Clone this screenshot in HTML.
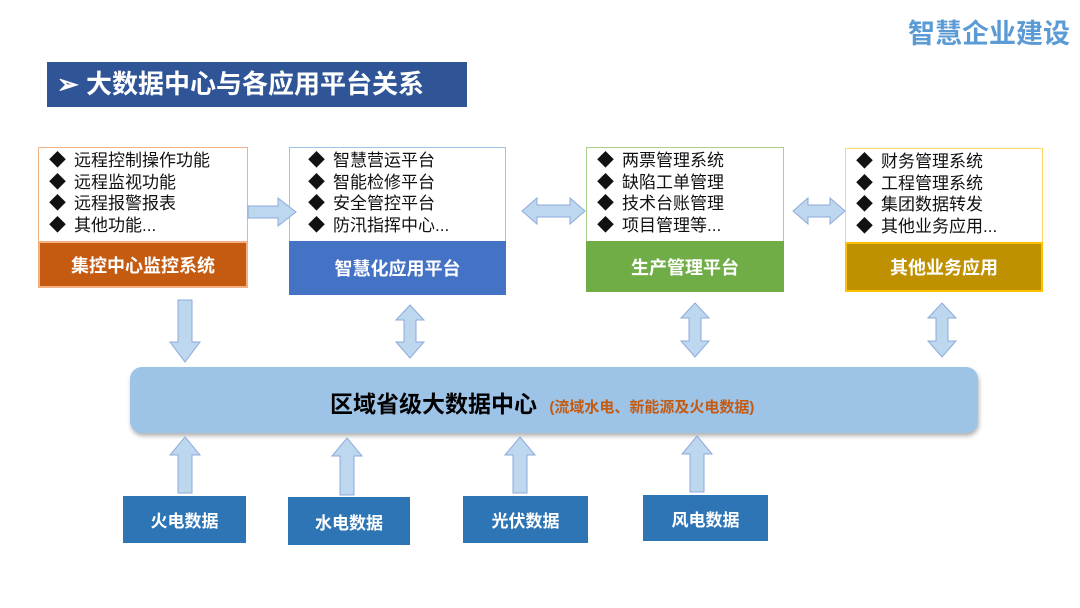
<!DOCTYPE html>
<html><head><meta charset="utf-8"><style>
body{margin:0;width:1080px;height:608px;background:#fff;position:relative;overflow:hidden;font-family:"Liberation Sans","Noto Sans CJK SC",sans-serif}
.a{position:absolute}
.list{position:absolute;background:#fff;box-sizing:border-box;padding:2px 0 0 10px;font-size:17px;line-height:21.5px;color:#111;white-space:nowrap}
.list b{font-weight:normal;margin-right:8px}
.bar{position:absolute;box-sizing:border-box;color:#fff;font-weight:bold;font-size:18px;display:flex;align-items:center;justify-content:center}
.bt{position:absolute;background:#2e75b6;color:#fff;font-weight:bold;font-size:17px;display:flex;align-items:center;justify-content:center}
</style></head><body>
<div class="a" style="right:10px;top:12px;font-size:27px;font-weight:bold;color:#5b9bd5">智慧企业建设</div>
<div class="a" style="left:47px;top:62px;width:420px;height:45px;background:#2f5597;color:#fff;font-size:26px;font-weight:bold;line-height:45px;padding-left:10px;box-sizing:border-box">➢ 大数据中心与各应用平台关系</div>

<div class="list" style="left:38px;top:147px;width:210px;height:95px;border:1px solid #f4b183;border-bottom:none"><b>◆</b>远程控制操作功能<br><b>◆</b>远程监视功能<br><b>◆</b>远程报警报表<br><b>◆</b>其他功能...</div>
<div class="bar" style="left:38px;top:241px;width:210px;height:47px;background:#c55a11;border:2px solid #f4b183">集控中心监控系统</div>

<div class="list" style="left:289px;top:147px;width:217px;height:95px;border:1px solid #9dc3e6;border-bottom:none;padding-left:18px"><b>◆</b>智慧营运平台<br><b>◆</b>智能检修平台<br><b>◆</b>安全管控平台<br><b>◆</b>防汛指挥中心...</div>
<div class="bar" style="left:289px;top:241px;width:217px;height:54px;background:#4472c4">智慧化应用平台</div>

<div class="list" style="left:586px;top:147px;width:198px;height:95px;border:1px solid #a9d18e;border-bottom:none"><b>◆</b>两票管理系统<br><b>◆</b>缺陷工单管理<br><b>◆</b>技术台账管理<br><b>◆</b>项目管理等...</div>
<div class="bar" style="left:586px;top:241px;width:198px;height:51px;background:#70ad47">生产管理平台</div>

<div class="list" style="left:845px;top:148px;width:198px;height:95px;border:1px solid #ffd966;border-bottom:none"><b>◆</b>财务管理系统<br><b>◆</b>工程管理系统<br><b>◆</b>集团数据转发<br><b>◆</b>其他业务应用...</div>
<div class="bar" style="left:845px;top:242px;width:198px;height:50px;background:#bf9000;border:2px solid #ffc000">其他业务应用</div>

<div class="a" style="left:130px;top:367px;width:848px;height:66px;background:#9dc3e6;border-radius:12px;box-shadow:1px 3px 4px rgba(0,0,0,.3)"></div>
<div class="a" style="left:330px;top:385px;font-size:23px;font-weight:bold;color:#000">区域省级大数据中心 <span style="font-size:15px;color:#c55a11;margin-left:6px">(流域水电、新能源及火电数据)</span></div>

<div class="bt" style="left:123px;top:496px;width:123px;height:47px">火电数据</div>
<div class="bt" style="left:288px;top:497px;width:122px;height:48px">水电数据</div>
<div class="bt" style="left:463px;top:496px;width:125px;height:47px">光伏数据</div>
<div class="bt" style="left:643px;top:495px;width:125px;height:46px">风电数据</div>

<svg class="a" style="left:0;top:0" width="1080" height="608">
<g fill="#bdd7ee" stroke="#8faadc" stroke-width="1">
<polygon points="248,206 278,206 278,198 296,212 278,226 278,218 248,218"/>
<polygon points="522,211 537,198 537,205 570,205 570,198 585,211 570,224 570,217 537,217 537,224"/>
<polygon points="793,211 808,198 808,205 830,205 830,198 845,211 830,224 830,217 808,217 808,224"/>
<polygon points="178,300 192,300 192,342 200,342 185,362 170,342 178,342"/>
<polygon points="410,305 424,320 416,320 416,342 424,342 410,358 396,342 404,342 404,320 396,320"/>
<polygon points="695,303 709,318 701,318 701,341 709,341 695,357 681,341 689,341 689,318 681,318"/>
<polygon points="942,303 956,318 948,318 948,341 956,341 942,357 928,341 936,341 936,318 928,318"/>
<polygon points="185,437 200,455 192,455 192,493 178,493 178,455 170,455"/>
<polygon points="347,438 362,456 354,456 354,495 340,495 340,456 332,456"/>
<polygon points="520,437 535,455 527,455 527,493 513,493 513,455 505,455"/>
<polygon points="697,436 712,454 704,454 704,492 690,492 690,454 682,454"/>
</g></svg>
</body></html>
